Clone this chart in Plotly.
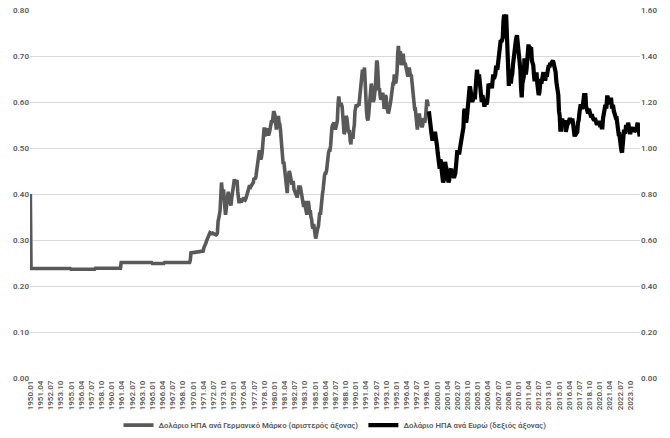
import plotly.graph_objects as go

# ---------------- DATA ----------------
# USD per German Mark (left axis): fixed-rate era, key points
dm_fixed_dates = ["1950.01", "1950.02", "1954.12", "1955.01", "1957.12", "1958.01",
                  "1961.02", "1961.03", "1964.12", "1965.01", "1966.06", "1966.07",
                  "1969.08", "1969.09", "1969.10", "1970.12"]
dm_fixed_values = [0.400, 0.238, 0.238, 0.2365, 0.2365, 0.2385,
                   0.2385, 0.251, 0.251, 0.249, 0.249, 0.251,
                   0.251, 0.256, 0.272, 0.274]

# USD per German Mark, monthly 1971.01 - 1998.12
dm_float_start = "1971.01"
dm_float_values = [
    0.275, 0.275, 0.275, 0.276, 0.283, 0.286, 0.287, 0.293, 0.298, 0.302, 0.304, 0.309,  # 1971
    0.314, 0.316, 0.315, 0.314, 0.314, 0.315, 0.314, 0.313, 0.312, 0.312, 0.311, 0.312,  # 1972
    0.315, 0.340, 0.355, 0.355, 0.365, 0.390, 0.425, 0.410, 0.405, 0.410, 0.375, 0.370,  # 1973
    0.355, 0.370, 0.385, 0.400, 0.405, 0.395, 0.390, 0.380, 0.375, 0.390, 0.400, 0.410,  # 1974
    0.425, 0.432, 0.428, 0.425, 0.428, 0.430, 0.405, 0.390, 0.380, 0.388, 0.387, 0.382,  # 1975
    0.385, 0.390, 0.390, 0.392, 0.388, 0.387, 0.390, 0.395, 0.400, 0.410, 0.412, 0.416,  # 1976
    0.416, 0.415, 0.418, 0.421, 0.424, 0.425, 0.435, 0.432, 0.432, 0.440, 0.450, 0.470,  # 1977
    0.470, 0.485, 0.495, 0.490, 0.475, 0.480, 0.490, 0.505, 0.515, 0.545, 0.525, 0.535,  # 1978
    0.540, 0.540, 0.542, 0.530, 0.530, 0.535, 0.545, 0.548, 0.560, 0.555, 0.565, 0.580,  # 1979
    0.577, 0.570, 0.540, 0.540, 0.555, 0.565, 0.570, 0.555, 0.552, 0.540, 0.515, 0.505,  # 1980
    0.490, 0.465, 0.470, 0.455, 0.440, 0.425, 0.410, 0.402, 0.430, 0.448, 0.450, 0.445,  # 1981
    0.435, 0.425, 0.420, 0.425, 0.425, 0.410, 0.405, 0.402, 0.400, 0.395, 0.395, 0.410,  # 1982
    0.415, 0.415, 0.418, 0.410, 0.400, 0.390, 0.385, 0.375, 0.375, 0.385, 0.370, 0.365,  # 1983
    0.355, 0.370, 0.385, 0.375, 0.360, 0.365, 0.350, 0.345, 0.330, 0.325, 0.335, 0.325,  # 1984
    0.315, 0.303, 0.310, 0.325, 0.325, 0.330, 0.345, 0.360, 0.355, 0.380, 0.390, 0.400,  # 1985
    0.410, 0.435, 0.440, 0.445, 0.445, 0.450, 0.465, 0.485, 0.490, 0.495, 0.495, 0.505,  # 1986
    0.540, 0.545, 0.550, 0.555, 0.555, 0.550, 0.540, 0.545, 0.550, 0.560, 0.595, 0.612,  # 1987
    0.600, 0.590, 0.595, 0.595, 0.590, 0.570, 0.545, 0.530, 0.535, 0.555, 0.570, 0.565,  # 1988
    0.545, 0.540, 0.535, 0.535, 0.515, 0.508, 0.530, 0.520, 0.520, 0.540, 0.550, 0.580,  # 1989
    0.595, 0.595, 0.590, 0.595, 0.595, 0.595, 0.610, 0.630, 0.635, 0.655, 0.670, 0.665,  # 1990
    0.665, 0.675, 0.620, 0.585, 0.580, 0.565, 0.560, 0.570, 0.590, 0.600, 0.620, 0.640,  # 1991
    0.630, 0.610, 0.600, 0.605, 0.615, 0.630, 0.660, 0.690, 0.685, 0.660, 0.625, 0.630,  # 1992
    0.615, 0.605, 0.610, 0.620, 0.620, 0.605, 0.585, 0.595, 0.615, 0.610, 0.590, 0.585,  # 1993
    0.575, 0.580, 0.595, 0.595, 0.605, 0.615, 0.635, 0.640, 0.640, 0.660, 0.650, 0.640,  # 1994
    0.650, 0.665, 0.705, 0.722, 0.705, 0.710, 0.710, 0.680, 0.690, 0.705, 0.705, 0.690,  # 1995
    0.680, 0.685, 0.675, 0.665, 0.655, 0.655, 0.670, 0.675, 0.665, 0.655, 0.660, 0.645,  # 1996
    0.625, 0.600, 0.590, 0.585, 0.585, 0.575, 0.555, 0.540, 0.560, 0.570, 0.575, 0.560,  # 1997
    0.550, 0.550, 0.545, 0.550, 0.565, 0.560, 0.555, 0.565, 0.590, 0.605, 0.600, 0.590,  # 1998
]

# USD per Euro (right axis), monthly 1999.01 - 2024.12
eur_start = "1999.01"
eur_values = [
    1.16, 1.12, 1.09, 1.07, 1.06, 1.04, 1.04, 1.06, 1.05, 1.07, 1.03, 1.01,  # 1999
    1.01, 0.98, 0.96, 0.94, 0.91, 0.95, 0.94, 0.90, 0.87, 0.85, 0.86, 0.90,  # 2000
    0.94, 0.92, 0.91, 0.89, 0.87, 0.85, 0.86, 0.90, 0.91, 0.91, 0.89, 0.89,  # 2001
    0.88, 0.87, 0.88, 0.89, 0.92, 0.96, 0.99, 0.98, 0.98, 0.98, 1.00, 1.02,  # 2002
    1.06, 1.08, 1.08, 1.09, 1.16, 1.17, 1.14, 1.11, 1.13, 1.17, 1.17, 1.23,  # 2003
    1.26, 1.26, 1.23, 1.20, 1.20, 1.21, 1.23, 1.22, 1.22, 1.25, 1.30, 1.34,  # 2004
    1.31, 1.30, 1.32, 1.29, 1.27, 1.22, 1.20, 1.23, 1.22, 1.20, 1.18, 1.19,  # 2005
    1.21, 1.19, 1.20, 1.23, 1.28, 1.27, 1.27, 1.28, 1.27, 1.26, 1.29, 1.32,  # 2006
    1.30, 1.31, 1.32, 1.35, 1.35, 1.34, 1.37, 1.36, 1.39, 1.42, 1.47, 1.46,  # 2007
    1.47, 1.48, 1.55, 1.58, 1.56, 1.56, 1.58, 1.50, 1.44, 1.33, 1.27, 1.34,  # 2008
    1.32, 1.28, 1.31, 1.32, 1.36, 1.40, 1.41, 1.43, 1.46, 1.48, 1.49, 1.46,  # 2009
    1.43, 1.37, 1.36, 1.34, 1.26, 1.22, 1.28, 1.29, 1.31, 1.39, 1.37, 1.32,  # 2010
    1.34, 1.37, 1.40, 1.45, 1.43, 1.44, 1.43, 1.43, 1.38, 1.37, 1.36, 1.32,  # 2011
    1.29, 1.32, 1.32, 1.32, 1.28, 1.25, 1.23, 1.24, 1.29, 1.30, 1.28, 1.31,  # 2012
    1.33, 1.33, 1.30, 1.30, 1.30, 1.32, 1.31, 1.33, 1.34, 1.36, 1.35, 1.37,  # 2013
    1.36, 1.37, 1.38, 1.38, 1.37, 1.36, 1.35, 1.33, 1.29, 1.27, 1.25, 1.23,  # 2014
    1.16, 1.14, 1.08, 1.08, 1.12, 1.12, 1.10, 1.11, 1.12, 1.12, 1.07, 1.09,  # 2015
    1.09, 1.11, 1.11, 1.13, 1.13, 1.12, 1.11, 1.12, 1.12, 1.10, 1.08, 1.05,  # 2016
    1.06, 1.06, 1.07, 1.07, 1.11, 1.12, 1.15, 1.18, 1.19, 1.18, 1.17, 1.18,  # 2017
    1.22, 1.23, 1.23, 1.23, 1.18, 1.17, 1.17, 1.15, 1.17, 1.15, 1.14, 1.14,  # 2018
    1.14, 1.14, 1.13, 1.12, 1.12, 1.13, 1.12, 1.11, 1.10, 1.11, 1.11, 1.11,  # 2019
    1.11, 1.09, 1.11, 1.09, 1.09, 1.13, 1.15, 1.18, 1.18, 1.18, 1.18, 1.22,  # 2020
    1.22, 1.21, 1.19, 1.20, 1.21, 1.21, 1.18, 1.18, 1.18, 1.16, 1.14, 1.13,  # 2021
    1.13, 1.13, 1.10, 1.08, 1.06, 1.06, 1.02, 1.01, 0.99, 0.98, 1.02, 1.06,  # 2022
    1.08, 1.07, 1.07, 1.10, 1.09, 1.08, 1.11, 1.09, 1.07, 1.06, 1.08, 1.09,  # 2023
    1.09, 1.08, 1.09, 1.07, 1.08, 1.08, 1.08, 1.10, 1.11, 1.09, 1.06, 1.05,  # 2024
]

first_period = "1950.01"
last_period = "2024.12"
tick_step_months = 15

dm_name = "Δολάριο ΗΠΑ ανά Γερμανικό Μάρκο (αριστερός άξονας)"
eur_name = "Δολάριο ΗΠΑ ανά Ευρώ (δεξιός άξονας)"

# ---------------- HELPERS ----------------
def idx(period):
    y, m = period.split(".")
    fy, fm = first_period.split(".")
    return (int(y) - int(fy)) * 12 + (int(m) - int(fm))

def label(i):
    fy = int(first_period.split(".")[0])
    return f"{fy + i // 12}.{i % 12 + 1:02d}"

n_months = idx(last_period) + 1

dm_x = [idx(d) for d in dm_fixed_dates] + [idx(dm_float_start) + k for k in range(len(dm_float_values))]
dm_y = dm_fixed_values + dm_float_values
eur_x = [idx(eur_start) + k for k in range(len(eur_values))]

tick_vals = list(range(0, n_months, tick_step_months))
tick_text = [label(i) for i in tick_vals]

FONT = "Roboto, sans-serif"
GREY_TXT = "#595959"

fig = go.Figure()
fig.add_trace(go.Scatter(x=dm_x, y=dm_y, mode="lines", name=dm_name,
                         line=dict(color="#595959", width=3.6), yaxis="y"))
fig.add_trace(go.Scatter(x=eur_x, y=eur_values, mode="lines", name=eur_name,
                         line=dict(color="#000000", width=4.2), yaxis="y2"))

fig.update_layout(
    width=670, height=438,
    margin=dict(l=30, r=30, t=10, b=60, autoexpand=False),
    paper_bgcolor="white", plot_bgcolor="white",
    font=dict(family=FONT, color=GREY_TXT, size=8),
    showlegend=True,
    legend=dict(orientation="h", x=0.5, xanchor="center", y=-0.128, yanchor="middle",
                font=dict(size=7.8, color=GREY_TXT, family=FONT, weight=600),
                itemwidth=30, tracegroupgap=0, bgcolor="rgba(0,0,0,0)"),
    xaxis=dict(range=[-0.5, n_months - 0.5], tickmode="array", tickvals=tick_vals,
               ticktext=tick_text, tickangle=-90, showgrid=False, zeroline=False,
               showline=False, ticks="", tickfont=dict(size=8, color=GREY_TXT, weight=600)),
    yaxis=dict(range=[0, 0.8], dtick=0.1, tickformat=".2f", showgrid=True,
               gridcolor="#d9d9d9", gridwidth=1, zeroline=False, showline=False,
               ticks="", tickfont=dict(size=8, color=GREY_TXT, weight=600)),
    yaxis2=dict(range=[0, 1.6], dtick=0.2, tickformat=".2f", overlaying="y",
                side="right", showgrid=False, zeroline=False, showline=False,
                ticks="", tickfont=dict(size=8, color=GREY_TXT, weight=600)),
)

fig.write_html("out.html", config={"displayModeBar": False},
               post_script="document.body.style.margin='0';")
